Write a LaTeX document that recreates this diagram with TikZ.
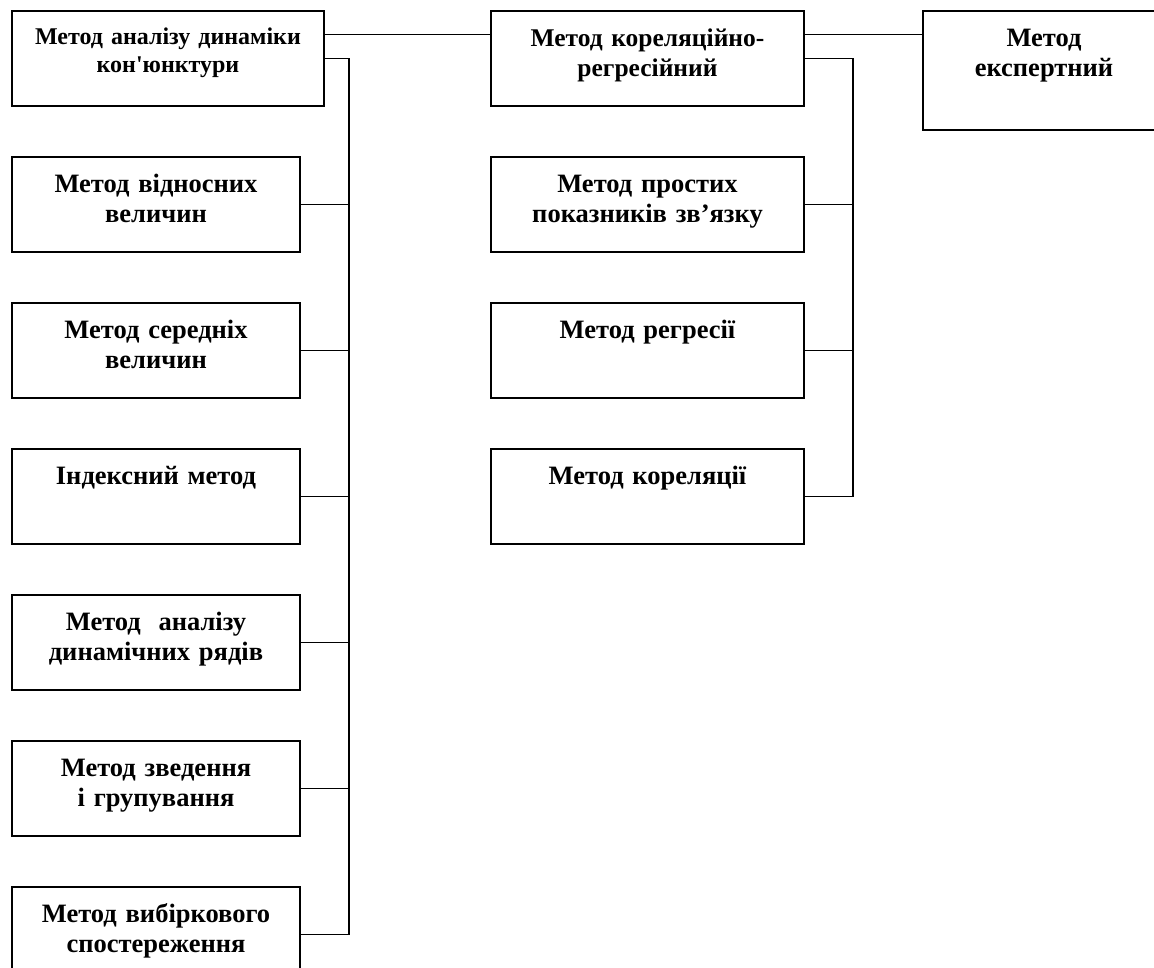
\documentclass[tikz,border=0pt]{standalone}
\usepackage{fontspec}
\setmainfont{Liberation Serif}[Ligatures=TeXOff]
\usetikzlibrary{positioning,calc}
\tikzset{
  box/.style = {rectangle, draw, line width=2pt, inner sep=0pt, align=center,
    text width=288pt, text height=35pt, text depth=60pt,
    font=\bfseries\fontsize{26.5}{30}\selectfont},
  widebox/.style = {box, text width=312pt},
  midbox/.style = {box, text width=313pt},
  link/.style = {line width=1.5pt}
}
\begin{document}
\begin{tikzpicture}[x=1pt, y=-1pt]
\useasboundingbox (0,0) rectangle (1154,967);

% left column
\node[widebox, text height=33pt, text depth=62pt, font=\bfseries\fontsize{24}{28}\selectfont,
  anchor=north west] (anl) at (11,10) {Метод аналізу динаміки\\кон'юнктури};
\node[box, below=49pt of anl.south west, anchor=north west] (rel) {Метод відносних\\величин};
\node[box, below=49pt of rel] (avg) {Метод середніх\\величин};
\node[box, below=49pt of avg] (idx) {Індексний метод};
\node[box, below=49pt of idx] (dyn) {Метод~ аналізу\\динамічних рядів};
\node[box, below=49pt of dyn] (grp) {Метод зведення\\і групування};
\node[box, below=49pt of grp] (smp) {Метод вибіркового\\спостереження};

% middle column
\node[midbox, font=\bfseries\fontsize{25.5}{30}\selectfont, anchor=north west] (kr) at (490,10)
  {Метод кореляційно-\\регресійний};
\node[midbox, below=49pt of kr] (prs) {Метод простих\\показників зв’язку};
\node[midbox, below=49pt of prs] (reg) {Метод регресії};
\node[midbox, below=49pt of reg] (kor) {Метод кореляції};

% right
\node[box, text width=242pt, text depth=84pt, anchor=north west] (exp) at (922,10) {Метод\\експертний};

% top links
\coordinate (top1) at ($(anl.north east)!0.25!(anl.south east)$);
\coordinate (top2) at ($(kr.north east)!0.25!(kr.south east)$);
\draw[link] (top1) -- (top1 -| kr.west);
\draw[link] (top2) -- (top2 -| exp.west);

% buses
\coordinate (lbus) at ($(anl.east)+(24pt,0)$);
\draw[link] (anl.east) -- (lbus) |- (smp.east);
\foreach \n in {rel,avg,idx,dyn,grp}
  \draw[link] (\n.east) -- (\n.east -| lbus);

\coordinate (mbus) at ($(kr.east)+(48pt,0)$);
\draw[link] (kr.east) -- (mbus) |- (kor.east);
\foreach \n in {prs,reg}
  \draw[link] (\n.east) -- (\n.east -| mbus);

\end{tikzpicture}
\end{document}
